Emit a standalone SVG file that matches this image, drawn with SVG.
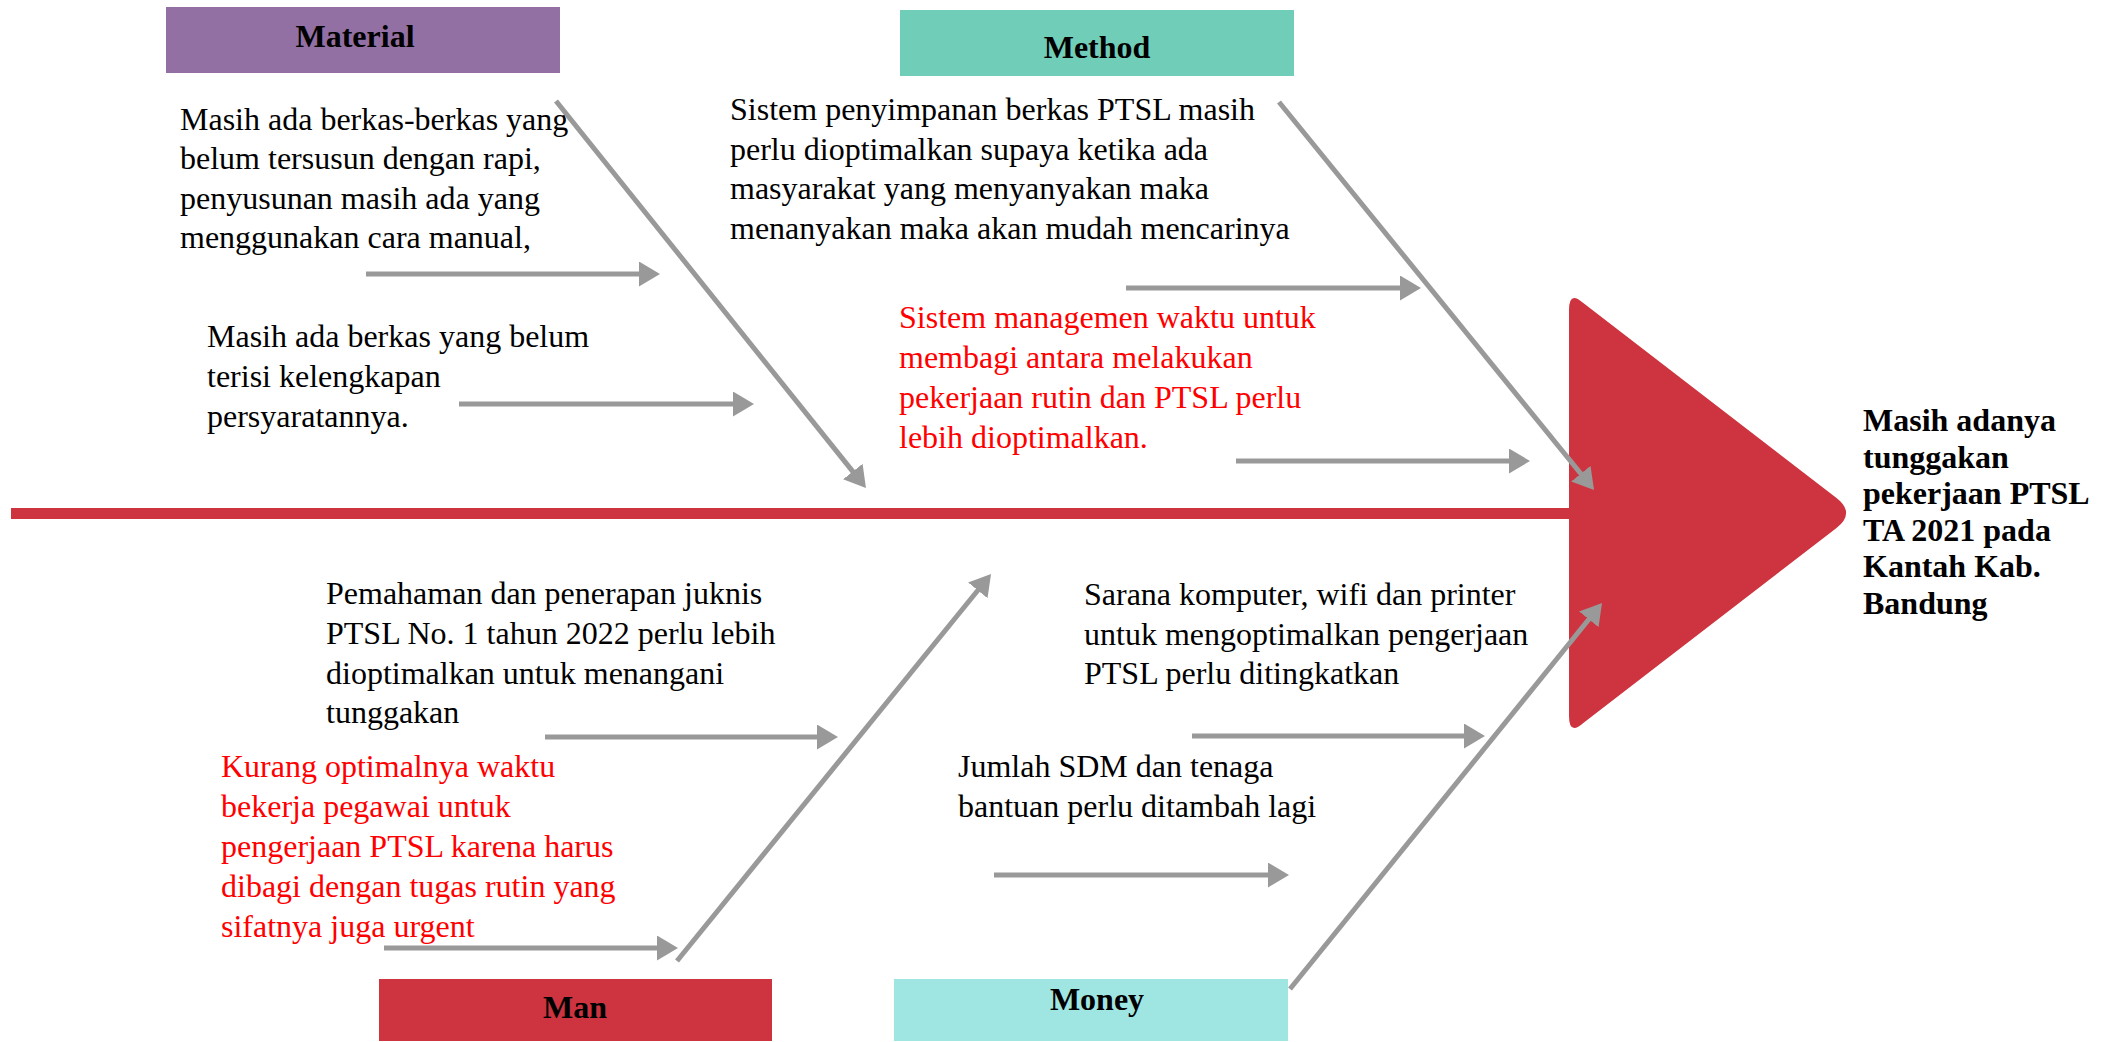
<svg xmlns="http://www.w3.org/2000/svg" width="2112" height="1042" viewBox="0 0 2112 1042">
<style>
.t{font-family:"Liberation Serif","Times New Roman",serif;font-size:32px;fill:#000}
.r{fill:#ff0000}
.b{font-weight:bold}
.c{text-anchor:middle}
.ar{stroke:#999999;stroke-width:5;fill:none}
</style>
<defs>
<marker id="ah" markerUnits="userSpaceOnUse" markerWidth="22" markerHeight="26" refX="3" refY="12.5" orient="auto" viewBox="0 0 22 26">
<path d="M0,0 L21,12.5 L0,25 z" fill="#999999"/>
</marker>
</defs>
<rect width="2112" height="1042" fill="#ffffff"/>
<g id="spine">
<rect x="11" y="508" width="1560" height="11" fill="#cd343f"/>
</g>
<g id="head">
<path d="M1569,310 Q1569,290 1583.3,303 L1836.2,497.7 Q1856,513 1836.2,528.3 L1583.3,723 Q1569,736 1569,716 Z" fill="#cd343f"/>
<text class="t b" x="1863" y="431"><tspan x="1863">Masih adanya</tspan><tspan x="1863" dy="36.5">tunggakan</tspan><tspan x="1863" dy="36.5">pekerjaan PTSL</tspan><tspan x="1863" dy="36.5">TA 2021 pada</tspan><tspan x="1863" dy="36.5">Kantah Kab.</tspan><tspan x="1863" dy="36.5">Bandung</tspan></text>
</g>
<g id="material">
<rect x="166" y="7" width="394" height="66" fill="#9370a4"/>
<text class="t b c" x="355" y="47">Material</text>
</g>
<g id="material-cause-1">
<text class="t" x="180" y="130"><tspan x="180">Masih ada berkas-berkas yang</tspan><tspan x="180" dy="39.3">belum tersusun dengan rapi,</tspan><tspan x="180" dy="39.3">penyusunan masih ada yang</tspan><tspan x="180" dy="39.3">menggunakan cara manual,</tspan></text>
</g>
<g id="material-cause-2">
<text class="t" x="207" y="347"><tspan x="207">Masih ada berkas yang belum</tspan><tspan x="207" dy="40">terisi kelengkapan</tspan><tspan x="207" dy="40">persyaratannya.</tspan></text>
</g>
<g id="method">
<rect x="900" y="10" width="394" height="66" fill="#70cdb8"/>
<text class="t b c" x="1097" y="58">Method</text>
</g>
<g id="method-cause-1">
<text class="t" x="730" y="120"><tspan x="730">Sistem penyimpanan berkas PTSL masih</tspan><tspan x="730" dy="39.7">perlu dioptimalkan supaya ketika ada</tspan><tspan x="730" dy="39.7">masyarakat yang menyanyakan maka</tspan><tspan x="730" dy="39.7">menanyakan maka akan mudah mencarinya</tspan></text>
</g>
<g id="method-cause-2">
<text class="t r" x="899" y="328"><tspan x="899">Sistem managemen waktu untuk</tspan><tspan x="899" dy="40">membagi antara melakukan</tspan><tspan x="899" dy="40">pekerjaan rutin dan PTSL perlu</tspan><tspan x="899" dy="40">lebih dioptimalkan.</tspan></text>
</g>
<g id="man">
<rect x="379" y="979" width="393" height="62" fill="#cd343f"/>
<text class="t b c" x="575" y="1018">Man</text>
</g>
<g id="man-cause-1">
<text class="t" x="326" y="604"><tspan x="326">Pemahaman dan penerapan juknis</tspan><tspan x="326" dy="39.8">PTSL No. 1 tahun 2022 perlu lebih</tspan><tspan x="326" dy="39.8">dioptimalkan untuk menangani</tspan><tspan x="326" dy="39.8">tunggakan</tspan></text>
</g>
<g id="man-cause-2">
<text class="t r" x="221" y="777"><tspan x="221">Kurang optimalnya waktu</tspan><tspan x="221" dy="39.9">bekerja pegawai untuk</tspan><tspan x="221" dy="39.9">pengerjaan PTSL karena harus</tspan><tspan x="221" dy="39.9">dibagi dengan tugas rutin yang</tspan><tspan x="221" dy="39.9">sifatnya juga urgent</tspan></text>
</g>
<g id="money">
<rect x="894" y="979" width="394" height="62" fill="#9fe6e3"/>
<text class="t b c" x="1097" y="1010">Money</text>
</g>
<g id="money-cause-1">
<text class="t" x="1084" y="605"><tspan x="1084">Sarana komputer, wifi dan printer</tspan><tspan x="1084" dy="39.5">untuk mengoptimalkan pengerjaan</tspan><tspan x="1084" dy="39.5">PTSL perlu ditingkatkan</tspan></text>
</g>
<g id="money-cause-2">
<text class="t" x="958" y="777"><tspan x="958">Jumlah SDM dan tenaga</tspan><tspan x="958" dy="40">bantuan perlu ditambah lagi</tspan></text>
</g>
<g id="connectors">
<line class="ar" x1="556" y1="101" x2="854.7" y2="473.9" marker-end="url(#ah)"/>
<line class="ar" x1="1279" y1="102" x2="1582.7" y2="476" marker-end="url(#ah)"/>
<line class="ar" x1="677" y1="961" x2="979.7" y2="588" marker-end="url(#ah)"/>
<line class="ar" x1="1290" y1="989" x2="1590.7" y2="617" marker-end="url(#ah)"/>
<line class="ar" x1="366" y1="274" x2="642" y2="274" marker-end="url(#ah)"/>
<line class="ar" x1="459" y1="404" x2="736" y2="404" marker-end="url(#ah)"/>
<line class="ar" x1="1126" y1="288" x2="1403" y2="288" marker-end="url(#ah)"/>
<line class="ar" x1="1236" y1="461" x2="1512" y2="461" marker-end="url(#ah)"/>
<line class="ar" x1="545" y1="737" x2="820" y2="737" marker-end="url(#ah)"/>
<line class="ar" x1="384" y1="948" x2="660" y2="948" marker-end="url(#ah)"/>
<line class="ar" x1="1192" y1="736" x2="1467" y2="736" marker-end="url(#ah)"/>
<line class="ar" x1="994" y1="875" x2="1271" y2="875" marker-end="url(#ah)"/>
</g>
</svg>
